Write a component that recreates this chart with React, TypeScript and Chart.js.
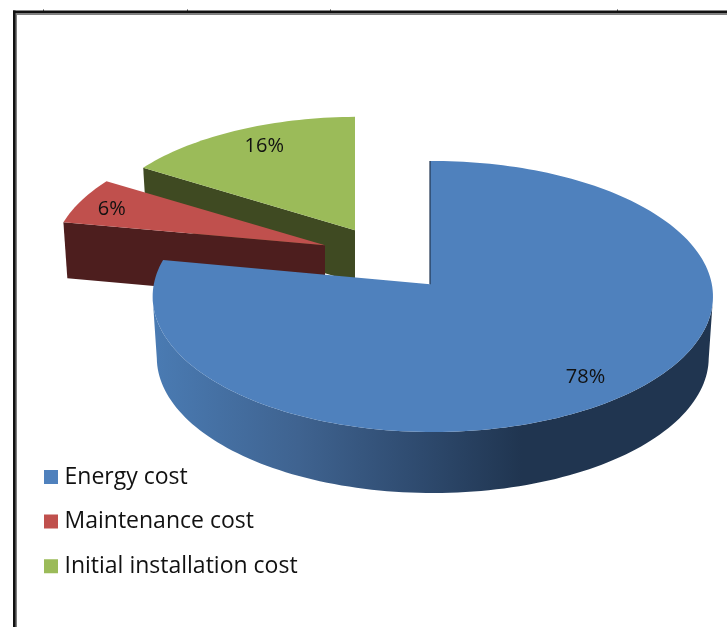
import React, { useEffect, useRef } from "react";
import { Chart, registerables } from "chart.js";

Chart.register(...registerables);

const categories = ["Energy cost", "Maintenance cost", "Initial installation cost"];
const shares = [78, 6, 16];
const topColors = ["#4f81bd", "#c0504d", "#9bbb59"];
const faceColors = ["#203550", "#4d1e1e", "#3f4a22"];

// Projection of the tilted pie on to the page
const CX = 430;
const CY = 296.5;
const RX = 279;
const RY = 135.5;
const PERSPECTIVE_Y = -0.09;
const PERSPECTIVE_X = -0.01;
const NARROW = 0.985;

// Explosion of each slice on the page
const sliceDx = [0, -105, -75];
const sliceDy = [0, -39, -54];
const sliceScaleX = [1, 0.98, 0.95];
const sliceScaleY = [1, 0.94, 0.92];
const sliceDepth = [61, 56, 52];
const labelFraction = [0.83, 0.84, 0.8];
const labelDx = [-2, -7, 5];
const labelDy = [1, 2, -3];

const FONT = "'Open Sans', sans-serif";
const LEGEND_PADDING = 21.6;

function project(angle: number, frac: number, i: number) {
  const u = frac * Math.cos(angle);
  const v = frac * Math.sin(angle);
  const den = 1 + PERSPECTIVE_Y * v + PERSPECTIVE_X * u;
  const ay = CY + RY * PERSPECTIVE_Y;
  const x = CX + (RX * u) / den;
  const y = CY + (RY * (v + PERSPECTIVE_Y)) / den;
  return {
    x: CX + sliceDx[i] + (x - CX) * sliceScaleX[i],
    y: ay + sliceDy[i] + (y - ay) * sliceScaleY[i],
  };
}

function lower(p: { x: number; y: number }, i: number) {
  const ax = CX + sliceDx[i];
  return { x: ax + (p.x - ax) * NARROW, y: p.y + sliceDepth[i] };
}

function arcPoints(a0: number, a1: number, i: number) {
  const n = Math.max(8, Math.ceil(((a1 - a0) / (Math.PI * 2)) * 240));
  const pts: { x: number; y: number }[] = [];
  for (let k = 0; k <= n; k++) pts.push(project(a0 + ((a1 - a0) * k) / n, 1, i));
  return pts;
}

const pie3d = {
  id: "pie3d",
  beforeDraw(chart: any) {
    const ctx = chart.ctx;
    ctx.save();
    ctx.fillStyle = "#ffffff";
    ctx.fillRect(0, 0, chart.width, chart.height);
    ctx.fillStyle = "#808080";
    ctx.fillRect(15, 13, 712, 2);
    ctx.fillRect(15, 13, 2, 614);
    ctx.fillStyle = "#111111";
    ctx.fillRect(13, 10.5, 714, 2.5);
    ctx.fillRect(13, 10.5, 2.5, 617);
    ctx.fillStyle = "#333333";
    [43, 187, 330, 617].forEach((x) => ctx.fillRect(x, 9.5, 1, 1.5));
    ctx.restore();
  },
  afterLayout(chart: any) {
    const lg = chart.legend;
    const w = lg.width;
    const h = lg.height;
    lg.left = 49 - LEGEND_PADDING;
    lg.right = lg.left + w;
    lg.top = 465.5 - LEGEND_PADDING;
    lg.bottom = lg.top + h;
  },
  beforeDatasetDraw(chart: any, args: any) {
    const ctx = chart.ctx;
    const arcs = args.meta.data;
    const order = [2, 1, 0];
    ctx.save();
    order.forEach((i) => {
      const el = arcs[i];
      const a0 = el.startAngle;
      const a1 = el.endAngle;
      const top = arcPoints(a0, a1, i);
      const apex = project(a0, 0, i);
      const apexLow = lower(apex, i);

      if (i === 0) {
        const grad = ctx.createLinearGradient(153, 0, 712, 0);
        grad.addColorStop(0, "#4a7bb3");
        grad.addColorStop(0.26, "#3f6390");
        grad.addColorStop(0.48, "#2e4a6e");
        grad.addColorStop(0.66, faceColors[0]);
        grad.addColorStop(1, faceColors[0]);
        let iRight = 0;
        let iLeft = 0;
        top.forEach((p, k) => {
          if (p.x > top[iRight].x) iRight = k;
          if (p.x < top[iLeft].x) iLeft = k;
        });
        const front = top.slice(iRight, iLeft + 1);
        ctx.beginPath();
        front.forEach((p, k) => (k ? ctx.lineTo(p.x, p.y) : ctx.moveTo(p.x, p.y)));
        [...front].reverse().forEach((p) => {
          const q = lower(p, i);
          ctx.lineTo(q.x, q.y);
        });
        ctx.closePath();
        ctx.fillStyle = grad;
        ctx.fill();
      } else {
        const outer = top[0];
        const outerLow = lower(outer, i);
        ctx.beginPath();
        ctx.moveTo(apex.x, apex.y);
        ctx.lineTo(outer.x, outer.y);
        ctx.lineTo(outerLow.x, outerLow.y);
        ctx.lineTo(apexLow.x, apexLow.y);
        ctx.closePath();
        ctx.fillStyle = faceColors[i];
        ctx.fill();
      }

      ctx.beginPath();
      ctx.moveTo(apex.x, apex.y);
      top.forEach((p) => ctx.lineTo(p.x, p.y));
      ctx.closePath();
      ctx.fillStyle = el.options.backgroundColor;
      ctx.fill();

      if (i === 0) {
        ctx.beginPath();
        ctx.moveTo(top[0].x, top[0].y);
        ctx.lineTo(apex.x, apex.y);
        ctx.strokeStyle = faceColors[0];
        ctx.lineWidth = 1.2;
        ctx.stroke();
      }
    });

    ctx.fillStyle = "#111111";
    ctx.font = `20px ${FONT}`;
    ctx.textAlign = "center";
    ctx.textBaseline = "middle";
    arcs.forEach((el: any, i: number) => {
      const mid = (el.startAngle + el.endAngle) / 2;
      const p = project(mid, labelFraction[i], i);
      ctx.fillText(`${shares[i]}%`, p.x + labelDx[i], p.y + labelDy[i]);
    });
    ctx.restore();
    return false;
  },
};

export default function App() {
  const ref = useRef<HTMLCanvasElement>(null);
  useEffect(() => {
    const chart = new Chart(ref.current as HTMLCanvasElement, {
      type: "pie",
      data: {
        labels: categories,
        datasets: [{ data: shares, backgroundColor: topColors, borderWidth: 0 }],
      },
      options: {
        responsive: false,
        animation: false,
        events: [],
        plugins: {
          tooltip: { enabled: false },
          legend: {
            display: true,
            position: "left",
            align: "start",
            labels: {
              boxWidth: 4,
              boxHeight: 4,
              padding: LEGEND_PADDING,
              color: "#111111",
              font: { family: FONT, size: 23 },
              generateLabels: (chart: any) =>
                Chart.overrides.pie.plugins.legend.labels
                  .generateLabels(chart)
                  .map((item: any, i: number) => ({
                    ...item,
                    strokeStyle: topColors[i],
                    lineWidth: 10,
                  })),
            },
          },
        },
      },
      plugins: [pie3d],
    } as any);
    return () => chart.destroy();
  }, []);
  return (
    <div style={{ position: "absolute", left: 0, top: 0, width: 727, height: 627, overflow: "hidden" }}>
      <canvas ref={ref} width={727} height={627} style={{ display: "block", filter: "blur(0.4px)" }} />
    </div>
  );
}
